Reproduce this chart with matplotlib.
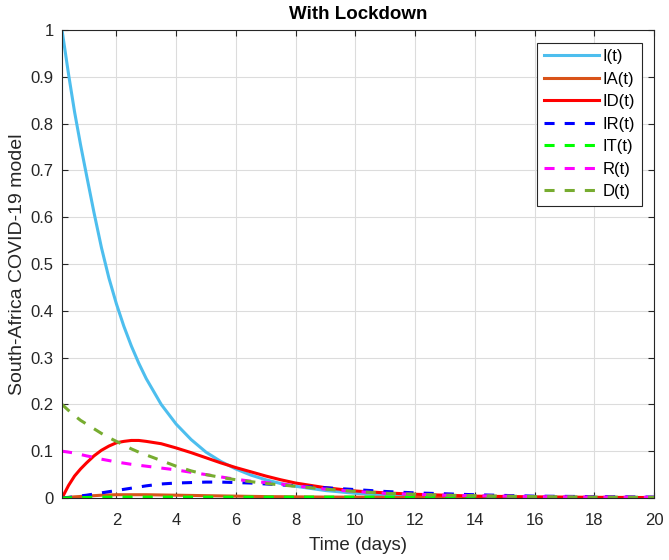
import matplotlib
matplotlib.use('Agg')
import matplotlib.pyplot as plt

plt.rcParams['font.family'] = ['Liberation Sans', 'DejaVu Sans']

# values
t = [0.18, 0.4, 0.6, 0.8, 1.0, 1.25, 1.5, 1.75, 2.0, 2.25, 2.5, 2.75, 3.0,
     3.5, 4.0, 4.5, 5.0, 5.5, 6.0, 6.5, 7.0, 7.5, 8.0, 9.0, 10.0, 11.0,
     12.0, 13.0, 14.0, 16.0, 18.0, 20.0]

I_t  = [1.0, 0.905, 0.825, 0.755, 0.69, 0.61, 0.535, 0.47, 0.415, 0.367,
        0.325, 0.288, 0.255, 0.20, 0.158, 0.125, 0.098, 0.078, 0.062, 0.049,
        0.039, 0.031, 0.025, 0.016, 0.010, 0.0065, 0.004, 0.0025, 0.0017,
        0.0007, 0.0003, 0.0001]
IA_t = [0.0, 0.0015, 0.0025, 0.0033, 0.004, 0.005, 0.006, 0.0065, 0.007,
        0.007, 0.007, 0.007, 0.007, 0.0065, 0.006, 0.0055, 0.005, 0.0045,
        0.004, 0.0035, 0.003, 0.0028, 0.0025, 0.002, 0.0018, 0.0015, 0.0012,
        0.001, 0.0009, 0.0007, 0.0005, 0.0004]
ID_t = [0.0, 0.027, 0.047, 0.062, 0.075, 0.09, 0.102, 0.111, 0.118, 0.121,
        0.123, 0.123, 0.121, 0.116, 0.107, 0.097, 0.086, 0.075, 0.065, 0.056,
        0.047, 0.039, 0.032, 0.022, 0.015, 0.011, 0.008, 0.006, 0.004,
        0.0025, 0.0015, 0.001]
IR_t = [0.0, 0.001, 0.003, 0.0045, 0.006, 0.0085, 0.011, 0.0135, 0.016,
        0.0185, 0.021, 0.0235, 0.026, 0.030, 0.032, 0.033, 0.034, 0.034,
        0.033, 0.032, 0.030, 0.028, 0.026, 0.022, 0.018, 0.014, 0.011, 0.009,
        0.007, 0.004, 0.003, 0.002]
IT_t = [0.0, 0.0004, 0.0007, 0.001, 0.0012, 0.0015, 0.0017, 0.0019, 0.002,
        0.002, 0.002, 0.002, 0.002, 0.002, 0.002, 0.002, 0.002, 0.002, 0.002,
        0.002, 0.002, 0.002, 0.002, 0.002, 0.002, 0.002, 0.002, 0.002, 0.002,
        0.0015, 0.001, 0.001]
R_t  = [0.10, 0.098, 0.096, 0.093, 0.09, 0.087, 0.083, 0.08, 0.077, 0.0745,
        0.072, 0.07, 0.068, 0.064, 0.060, 0.055, 0.050, 0.045, 0.040, 0.036,
        0.033, 0.030, 0.026, 0.019, 0.014, 0.010, 0.008, 0.006, 0.005, 0.003,
        0.002, 0.0015]
D_t  = [0.20, 0.187, 0.176, 0.166, 0.158, 0.148, 0.138, 0.129, 0.121, 0.113,
        0.105, 0.098, 0.092, 0.080, 0.068, 0.058, 0.050, 0.044, 0.039, 0.035,
        0.031, 0.028, 0.025, 0.019, 0.014, 0.010, 0.008, 0.006, 0.005, 0.003,
        0.002, 0.0015]

series = [
    ('I(t)',  I_t,  '#4DBEEE', '-'),
    ('IA(t)', IA_t, '#D95319', '-'),
    ('ID(t)', ID_t, '#FF0000', '-'),
    ('IR(t)', IR_t, '#0000FF', '--'),
    ('IT(t)', IT_t, '#00FF00', '--'),
    ('R(t)',  R_t,  '#FF00FF', '--'),
    ('D(t)',  D_t,  '#77AC30', '--'),
]

fig = plt.figure(figsize=(6.69, 5.6), dpi=100)
ax = fig.add_axes([0.0927, 0.1107, 0.885, 0.8357])

for label, vals, color, ls in series:
    line, = ax.plot(t, vals, color=color, linestyle=ls, linewidth=2.2, label=label)
    if ls == '--':
        line.set_dashes((3.3, 3.3))

ax.set_xlim(0.18, 20)
ax.set_ylim(0, 1)
ax.set_xticks(range(2, 21, 2))
ax.set_yticks([i / 10 for i in range(11)])
ax.set_yticklabels(['0', '0.1', '0.2', '0.3', '0.4', '0.5', '0.6', '0.7',
                    '0.8', '0.9', '1'])
ax.tick_params(direction='in', top=True, right=True, labelsize=12,
               colors='#262626', length=4)
ax.tick_params(axis='x', pad=11)
ax.tick_params(axis='y', pad=6)
for sp in ax.spines.values():
    sp.set_color('#262626')
    sp.set_linewidth(0.8)
ax.grid(True, color='#dcdcdc', linewidth=0.8)
ax.set_axisbelow(True)

ax.set_title('With Lockdown', fontsize=13.5, fontweight='bold', pad=8)
ax.set_xlabel('Time (days)', fontsize=13.5, color='#262626', labelpad=6)
ax.set_ylabel('South-Africa COVID-19 model', fontsize=14, color='#262626', labelpad=3)

leg = ax.legend(loc='upper right', fontsize=12, frameon=True, fancybox=False,
                edgecolor='#262626', framealpha=1, handlelength=3.3,
                labelspacing=0.45, borderaxespad=0.75, handletextpad=0.2,
                borderpad=0.4)
leg.get_frame().set_linewidth(0.8)

plt.savefig('out.png', dpi=100)
plt.close()
